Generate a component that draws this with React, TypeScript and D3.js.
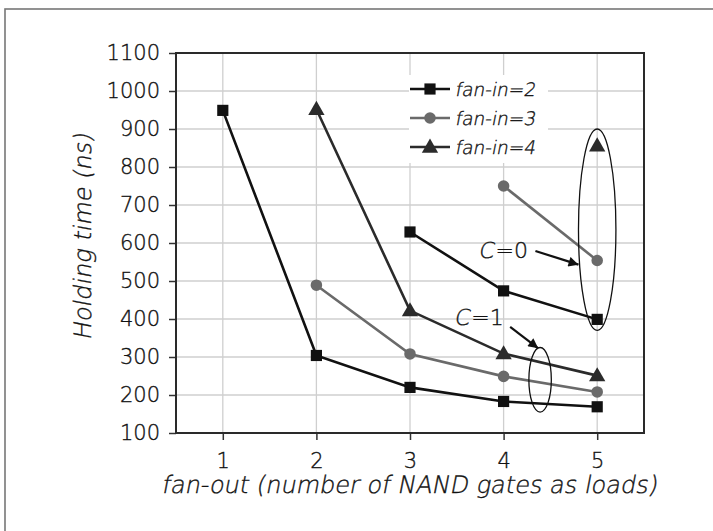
import { useEffect, useRef } from 'react';
import * as d3 from 'd3';

// fan-out values (x) and holding times (ns)
const fanOut = [1, 2, 3, 4, 5];
const yTicks = [100, 200, 300, 400, 500, 600, 700, 800, 900, 1000, 1100];

// C=1 curves
const fanIn2C1 = [[1, 949], [2, 304], [3, 220], [4, 183], [5, 169]];
const fanIn3C1 = [[2, 489], [3, 308], [4, 249], [5, 208]];
const fanIn4C1 = [[2, 952], [3, 422], [4, 309], [5, 251]];
// C=0 curves
const fanIn2C0 = [[3, 629], [4, 474], [5, 399]];
const fanIn3C0 = [[4, 750], [5, 554]];
const fanIn4C0 = [[5, 856]];

const legendLabels = ['fan-in=2', 'fan-in=3', 'fan-in=4'];

export default function App() {
  const svgRef = useRef<SVGSVGElement>(null);

  useEffect(() => {
    const svg = d3.select(svgRef.current);
    svg.selectAll('*').remove();

    const width = 713;
    const height = 531;
    const m = { left: 176, right: 644, top: 53, bottom: 433 };
    const font = '"DejaVu Sans", Verdana, sans-serif';
    const ink = '#111';
    // light italic: the light face has no oblique, so slant it by hand
    const slant = 'skewX(-11)';

    const x = d3.scaleLinear().domain([0.5, 5.5]).range([m.left, m.right]);
    const y = d3.scaleLinear().domain([100, 1100]).range([m.bottom, m.top]);

    svg.append('rect').attr('width', width).attr('height', height).attr('fill', '#fff');

    // outer frame
    svg.append('rect')
      .attr('x', 5).attr('y', 9)
      .attr('width', width + 10).attr('height', height + 10)
      .attr('fill', 'none').attr('stroke', '#777').attr('stroke-width', 1.6);

    // grid
    const grid = svg.append('g').attr('stroke', '#cfcfcf').attr('stroke-width', 1.3);
    grid.selectAll('.gy').data(yTicks.slice(1, -1)).enter().append('line')
      .attr('x1', m.left).attr('x2', m.right)
      .attr('y1', d => y(d)).attr('y2', d => y(d));
    grid.selectAll('.gx').data(fanOut).enter().append('line')
      .attr('x1', d => x(d)).attr('x2', d => x(d))
      .attr('y1', m.top).attr('y2', m.bottom);

    // axes
    const yAxis = svg.append('g')
      .attr('transform', `translate(${m.left},0)`)
      .call(d3.axisLeft(y).tickValues(yTicks).tickSize(7).tickPadding(9).tickFormat(d3.format('d')));
    const xAxis = svg.append('g')
      .attr('transform', `translate(0,${m.bottom})`)
      .call(d3.axisBottom(x).tickValues(fanOut).tickSize(7).tickPadding(13).tickFormat(d3.format('d')));
    [yAxis, xAxis].forEach(a => {
      a.select('.domain').remove();
      a.selectAll('line').attr('stroke', '#333').attr('stroke-width', 1.5);
      a.selectAll('text').attr('fill', ink)
        .style('font-family', font).style('font-size', '21px').style('font-weight', 300);
    });

    // plot frame
    svg.append('rect')
      .attr('x', m.left).attr('y', m.top)
      .attr('width', m.right - m.left).attr('height', m.bottom - m.top)
      .attr('fill', 'none').attr('stroke', '#2a2a2a').attr('stroke-width', 2);

    // axis titles
    svg.append('text')
      .attr('transform', `translate(91,${(m.top + m.bottom) / 2 - 6}) rotate(-90) ${slant}`)
      .attr('text-anchor', 'middle')
      .style('font-family', font).style('font-size', '24px').style('font-weight', 300)
      .attr('fill', ink)
      .text('Holding time (ns)');
    svg.append('text')
      .attr('transform', `translate(409,493) ${slant}`)
      .attr('text-anchor', 'middle')
      .style('font-family', font).style('font-size', '24px').style('font-weight', 300)
      .attr('fill', ink)
      .text('fan-out (number of NAND gates as loads)');

    // legend box (white, hides grid)
    svg.append('rect')
      .attr('x', 409).attr('y', 75).attr('width', 139).attr('height', 88)
      .attr('fill', '#fff');

    const styles = [
      { color: '#111', symbol: d3.symbolSquare, size: 125 },
      { color: '#6a6a6a', symbol: d3.symbolCircle, size: 105 },
      { color: '#2b2b2b', symbol: d3.symbolTriangle, size: 115 },
    ];
    const series = [
      { data: fanIn2C1, s: 0 }, { data: fanIn3C1, s: 1 }, { data: fanIn4C1, s: 2 },
      { data: fanIn2C0, s: 0 }, { data: fanIn3C0, s: 1 }, { data: fanIn4C0, s: 2 },
    ];
    const line = d3.line<number[]>().x(d => x(d[0])).y(d => y(d[1]));

    series.forEach(sr => {
      const st = styles[sr.s];
      svg.append('path')
        .attr('d', line(sr.data as number[][]) || '')
        .attr('fill', 'none').attr('stroke', st.color).attr('stroke-width', 2.6);
    });
    series.forEach(sr => {
      const st = styles[sr.s];
      svg.selectAll(null).data(sr.data).enter().append('path')
        .attr('transform', d => `translate(${x(d[0])},${y(d[1]) + (sr.s === 2 ? 1 : 0)})`)
        .attr('d', d3.symbol().type(st.symbol).size(st.size)() || '')
        .attr('fill', st.color);
    });

    // legend entries
    const rowY = [89, 118, 147];
    legendLabels.forEach((lab, i) => {
      const st = styles[i];
      const g = svg.append('g').attr('transform', `translate(410,${rowY[i]})`);
      g.append('line').attr('x1', 0).attr('x2', 40).attr('stroke', st.color).attr('stroke-width', 2.6);
      g.append('path')
        .attr('transform', `translate(20,${i === 2 ? 1 : 0})`)
        .attr('d', d3.symbol().type(st.symbol).size(st.size)() || '')
        .attr('fill', st.color);
      g.append('text')
        .attr('transform', `translate(46,0) ${slant}`)
        .attr('dy', '0.36em')
        .style('font-family', font).style('font-size', '18.5px').style('font-weight', 300)
        .attr('fill', ink)
        .text(lab);
    });

    // ellipses marking groups
    svg.append('ellipse')
      .attr('cx', x(5)).attr('cy', y(635))
      .attr('rx', x(5.2) - x(5)).attr('ry', y(370) - y(635))
      .attr('fill', 'none').attr('stroke', '#111').attr('stroke-width', 1.3);
    svg.append('ellipse')
      .attr('cx', x(4.39)).attr('cy', y(240))
      .attr('rx', x(4.51) - x(4.39)).attr('ry', y(155) - y(240))
      .attr('fill', 'none').attr('stroke', '#111').attr('stroke-width', 1.3);

    // annotations
    const defs = svg.append('defs');
    defs.append('marker')
      .attr('id', 'arrowhead').attr('viewBox', '0 0 10 10')
      .attr('refX', 10).attr('refY', 5)
      .attr('markerWidth', 6).attr('markerHeight', 4.5)
      .attr('orient', 'auto')
      .append('path').attr('d', 'M0,0 L10,5 L0,10 z').attr('fill', '#111');

    const notes = [
      { label: '0', tx: 4.0, ty: 582, ax: [4.34, 579], bx: [4.8, 543] },
      { label: '1', tx: 3.74, ty: 405, ax: [4.07, 379], bx: [4.37, 323] },
    ];
    notes.forEach(n => {
      const g = svg.append('g').attr('transform', `translate(${x(n.tx)},${y(n.ty)})`);
      g.append('text')
        .attr('transform', `translate(-24,0) ${slant}`)
        .attr('dy', '0.36em')
        .style('font-family', font).style('font-size', '22px').style('font-weight', 300)
        .attr('fill', ink)
        .text('C');
      g.append('text')
        .attr('x', -8).attr('dy', '0.36em')
        .style('font-family', font).style('font-size', '22px').style('font-weight', 300)
        .attr('fill', ink)
        .text('=' + n.label);
      svg.append('line')
        .attr('x1', x(n.ax[0])).attr('y1', y(n.ax[1]))
        .attr('x2', x(n.bx[0])).attr('y2', y(n.bx[1]))
        .attr('stroke', '#111').attr('stroke-width', 2.2)
        .attr('marker-end', 'url(#arrowhead)');
    });

    // thicken the light face a little
    svg.selectAll('text')
      .attr('stroke', ink).attr('stroke-width', 0.35);
  }, []);

  return (
    <svg
      ref={svgRef}
      width={713}
      height={531}
      style={{ position: 'absolute', left: 0, top: 0, display: 'block' }}
    />
  );
}
